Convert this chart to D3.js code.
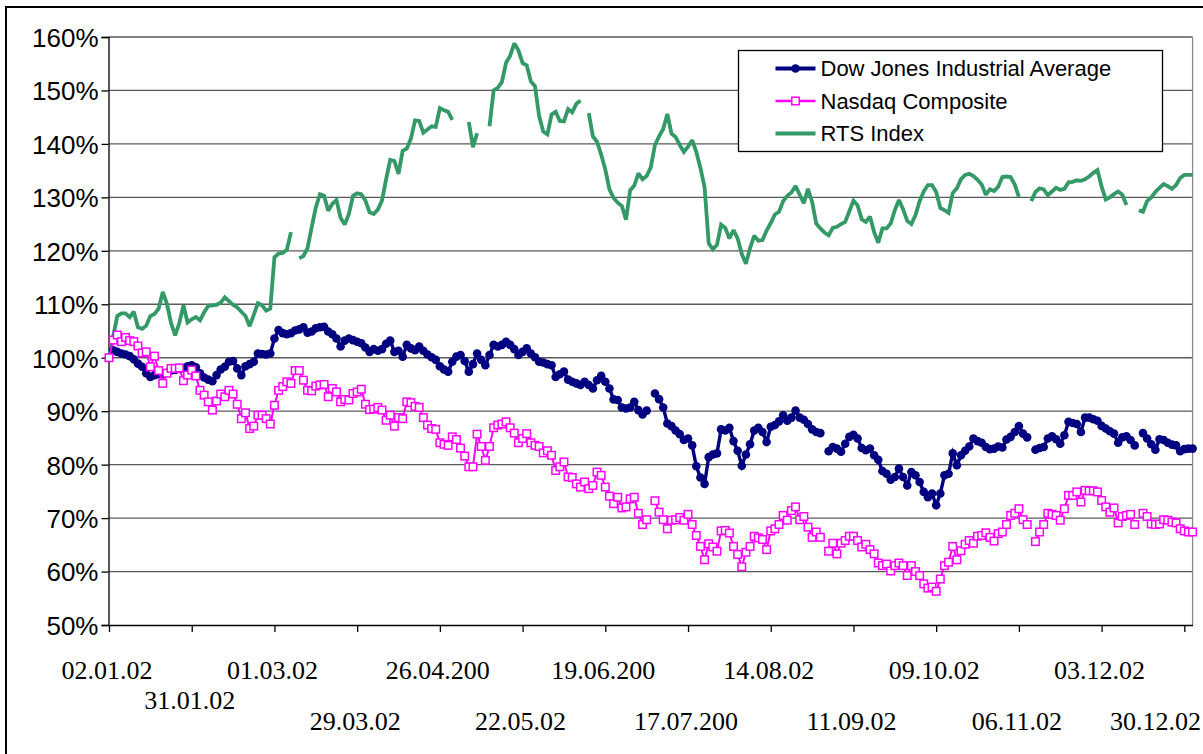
<!DOCTYPE html>
<html>
<head>
<meta charset="utf-8">
<script src="https://cdn.jsdelivr.net/npm/d3@7"></script>
<style>
  body { margin: 0; background: #fff; }
  svg { display: block; }
</style>
</head>
<body>
<svg id="chart" width="1203" height="754"></svg>
<script>
// Date labels shown under every 20th trading day
const tickLabels = ["02.01.02", "31.01.02", "01.03.02", "29.03.02", "26.04.200", "22.05.02",
  "19.06.200", "17.07.200", "14.08.02", "11.09.02", "09.10.02", "06.11.02", "03.12.02", "30.12.02"];

const seriesNames = ["Dow Jones Industrial Average", "Nasdaq Composite", "RTS Index"];

// Index level relative to the first trading day of 2002, in percent (null = market closed)
const dowValues = [
  100,101.4,101.1,100.8,100.6,100.3,99.7,98.9,98.3,97.1,
  96.4,96.75,96.9,96.9,97.2,97.6,97.7,97.9,98.0,98.4,
  98.6,98.2,97.1,96.3,95.9,95.6,96.75,97.8,98.3,99.25,
  99.4,98.0,96.75,98.4,98.8,99.25,100.8,100.7,100.6,100.8,
  103.6,105.2,104.6,104.4,104.6,105.1,105.3,105.7,104.7,104.9,
  105.5,105.7,105.8,104.9,104.4,103.6,102.1,103.2,103.6,103.3,
  103.0,102.7,101.9,101.1,101.6,101.3,101.6,102.6,103.2,101.1,
  101.3,100.2,102.4,101.75,101.4,102.1,101.3,100.6,100.1,99.6,
  98.4,97.8,97.4,99.25,100.2,100.5,99.4,97.4,98.8,100.8,
  99.6,98.6,100.5,102.4,102.1,102.4,103.0,102.4,101.6,100.5,
  101.1,101.75,100.8,100.1,99.25,99.1,98.8,98.6,96.4,96.9,
  97.4,95.9,95.5,95.2,94.9,95.5,94.9,94.25,95.8,96.6,
  95.5,94.25,92.2,92.1,90.7,90.5,90.7,91.75,90.2,89.4,
  90.1,null,93.3,92.25,90.7,87.7,87.2,86.4,85.7,84.6,
  84.9,83.6,79.7,77.6,76.4,81.4,81.9,82.1,86.6,86.4,
  86.9,84.4,82.6,79.8,81.9,83.8,86.4,86.9,86.1,84.25,
  87.1,87.4,88.1,89.25,88.2,88.8,90.1,88.8,88.4,87.6,
  86.6,86.1,85.9,null,82.5,83.3,83.0,82.4,83.9,85.2,
  85.6,84.9,83.1,82.7,83.0,81.75,80.9,78.8,78.3,77.2,
  77.7,79.25,77.7,76.1,78.6,78.0,76.75,74.9,73.9,74.6,
  72.4,74.6,78.0,78.3,82.1,79.9,81.75,82.6,83.4,84.9,
  84.4,84.1,83.3,82.9,83.0,83.4,83.2,84.7,85.2,86.1,
  87.2,85.8,85.1,null,82.8,83.1,83.3,84.9,85.3,84.75,
  83.9,85.5,88.0,87.8,87.6,86.1,88.8,88.8,88.5,88.2,
  87.25,86.75,86.25,85.8,84.1,85.1,85.3,84.6,83.6,null,
  85.9,84.9,83.8,82.8,84.75,84.6,84.1,83.75,83.6,82.5,
  82.9,83.0,83.0
];

const nasdaqValues = [
  100,103.3,104.25,103.0,103.8,103.2,103.0,102.2,100.9,101.1,
  98.3,100.3,97.6,95.2,97.1,98.0,98.0,98.1,95.7,96.75,
  97.7,96.6,93.9,93.0,91.75,90.2,91.9,93.2,92.7,93.9,
  93.2,91.3,88.6,89.7,86.75,87.2,89.25,89.25,88.6,87.6,
  91.1,93.9,94.6,95.5,95.2,97.6,97.6,95.8,93.9,93.8,
  94.7,94.9,95.0,92.7,94.25,93.6,91.75,92.2,92.1,93.3,
  93.6,94.1,91.3,90.3,90.4,90.7,90.2,88.3,89.25,87.2,
  88.8,88.6,91.75,91.6,90.9,90.7,88.8,87.4,86.75,86.6,
  84.1,83.8,83.6,85.2,84.7,83.1,81.6,79.6,79.6,85.7,
  83.4,80.8,83.4,86.9,87.4,87.6,88.0,86.9,85.9,84.1,
  84.9,85.8,84.1,83.6,83.4,82.2,82.6,81.75,78.9,79.6,
  80.5,77.7,77.6,76.4,75.8,76.75,75.5,76.1,78.6,78.0,
  75.8,74.1,72.7,73.9,71.9,72.1,73.6,73.9,70.9,68.8,
  69.7,null,73.25,71.1,69.7,68.0,69.6,69.7,70.1,69.6,
  70.7,68.8,66.75,64.7,62.2,65.2,64.6,63.8,67.6,67.7,
  67.2,64.7,63.2,60.9,63.6,64.7,66.6,66.3,66.0,64.1,
  67.6,68.0,68.8,70.5,69.6,71.4,72.1,69.7,70.3,68.3,
  66.4,67.4,66.4,null,63.8,65.3,63.3,65.3,65.8,66.6,
  66.6,65.8,64.6,65.1,64.1,63.3,61.6,61.1,61.4,60.1,
  61.1,61.6,61.1,59.25,61.1,60.0,59.25,57.7,56.9,57.1,
  56.3,58.6,61.1,61.75,64.7,62.2,63.9,65.1,65.8,65.3,
  66.6,66.75,67.25,66.4,65.7,67.1,67.4,68.8,70.5,70.9,
  71.75,69.7,68.8,null,65.6,67.4,68.8,70.9,70.7,70.5,
  69.6,71.75,74.25,74.25,74.9,73.0,75.2,75.1,75.1,74.9,
  73.3,72.1,71.1,71.9,69.1,70.3,70.5,70.7,68.8,null,
  70.9,70.3,68.9,68.8,68.9,69.7,69.6,69.25,69.1,68.0,
  67.6,67.4,67.4
];

const rtsValues = [
  100,104,107.8,108.3,108.3,107.6,108.6,105.7,105.4,106.0,
  107.8,108.2,109.2,112.3,110.1,106.5,104.2,106.5,109.8,106.6,
  107.2,107.6,107.0,108.5,109.7,109.8,109.9,110.3,111.3,110.6,
  109.9,109.4,108.6,107.8,105.9,108.0,110.2,109.8,108.8,109.2,
  118.8,119.5,119.6,120.2,123.5,null,118.6,119.0,120.5,124.4,
  128.1,130.6,130.3,127.5,128.8,129.5,126.2,124.9,126.9,130.3,
  130.75,130.6,129.4,127.2,126.9,127.7,129.4,133.4,137.0,136.8,
  134.4,138.7,139.1,141.0,144.4,144.3,142.1,142.7,143.3,143.2,
  146.7,146.3,146.0,144.5,null,null,null,144.1,139.4,142.0,
  null,null,143.3,150.0,150.5,151.6,155.2,156.5,158.8,157.5,
  155.1,154.7,151.7,150.8,145.2,142.3,141.8,145.5,146.0,144.3,
  144.2,146.5,145.9,147.5,148.1,null,145.75,141.4,140.4,138.0,
  135.2,131.5,129.9,129.0,128.4,125.8,131.3,132.2,134.5,133.4,
  134.0,135.6,139.8,141.4,142.8,145.6,141.9,141.3,139.8,138.5,
  139.5,140.7,138.5,135.5,131.9,121.4,120.3,121.1,124.9,124.3,
  122.3,123.9,122.3,119.4,117.6,120.5,122.8,121.9,122.0,123.8,
  125.2,126.8,127.3,129.3,130.3,130.9,132.1,130.5,128.9,131.6,
  129.2,125.1,124.2,123.4,122.9,124.3,124.5,125.0,125.4,127.4,
  129.4,128.5,125.9,125.4,126.4,123.5,121.5,124.2,124.2,125.1,
  127.6,129.5,127.8,125.6,125.0,126.7,129.3,131.1,132.3,132.3,
  131.0,128.0,127.6,127.1,130.8,131.7,133.4,134.2,134.4,134.0,
  133.3,132.4,130.5,131.5,131.2,132.0,133.8,133.9,133.8,132.4,
  130.1,null,null,129.3,131.0,131.7,131.5,130.4,131.1,131.8,
  131.4,131.6,132.8,132.9,133.2,133.1,133.4,133.9,134.6,135.1,
  132.0,129.6,130.0,130.6,131.1,130.5,128.6,null,null,127.6,
  127.3,129.3,130.0,131.0,131.8,132.5,132.1,131.6,132.3,133.6,
  134.2,134.2,134.2
];

const yTicks = [50, 60, 70, 80, 90, 100, 110, 120, 130, 140, 150, 160];

const colors = { dow: "#000080", nasdaq: "#ff00ff", rts: "#339966" };
const sansFont = "Arial, 'Liberation Sans', Helvetica, sans-serif";
const serifFont = "'Times New Roman', 'Liberation Serif', serif";

const W = 1203, H = 754;
const plot = { left: 109, right: 1192.6, top: 37, bottom: 625 };
const labelStep = 20;

const svg = d3.select("#chart");
svg.append("rect").attr("width", W).attr("height", H).attr("fill", "#fff");

// Chart frame (right and bottom edges lie outside the page)
svg.append("rect")
  .attr("x", 6).attr("y", 7).attr("width", W + 20).attr("height", H + 20)
  .attr("fill", "none").attr("stroke", "#000").attr("stroke-width", 2);

const n = dowValues.length;
const x = d3.scaleLinear().domain([0, n - 1]).range([plot.left, plot.right]);
const y = d3.scaleLinear().domain([50, 160]).range([plot.bottom, plot.top]);

// Horizontal gridlines
svg.append("g")
  .selectAll("line")
  .data(yTicks.filter(v => v > 50))
  .join("line")
  .attr("x1", plot.left).attr("x2", plot.right)
  .attr("y1", d => y(d)).attr("y2", d => y(d))
  .attr("stroke", "#5a5a5a").attr("stroke-width", 1.3);

// Plot-area right edge
svg.append("line")
  .attr("x1", plot.right).attr("x2", plot.right)
  .attr("y1", plot.top).attr("y2", plot.bottom)
  .attr("stroke", "#8a8a8a").attr("stroke-width", 1.3);

// Y axis
const yAxis = svg.append("g")
  .attr("transform", `translate(${plot.left - 0.5},0)`)
  .call(d3.axisLeft(y).tickValues(yTicks).tickFormat(d => d + "%").tickSize(7).tickPadding(3));
yAxis.select(".domain").attr("stroke", "#000").attr("stroke-width", 1.3);
yAxis.selectAll(".tick line").attr("stroke", "#000").attr("stroke-width", 1.3);
yAxis.selectAll(".tick text")
  .attr("font-family", sansFont).attr("font-size", 26).attr("fill", "#000")
  .attr("dy", "0.36em");

// X axis with a tick every 20 trading days
const tickIdx = d3.range(0, n, labelStep);
const xAxis = svg.append("g")
  .attr("transform", `translate(0,${plot.bottom})`)
  .call(d3.axisBottom(x).tickValues(tickIdx).tickFormat("").tickSize(7).tickSizeOuter(0));
xAxis.select(".domain").attr("stroke", "#000").attr("stroke-width", 1.3);
xAxis.selectAll(".tick line").attr("stroke", "#000").attr("stroke-width", 1.3);

// Staggered date labels
const labelRowY = [679, 709, 730];
svg.append("g")
  .selectAll("text")
  .data(tickLabels)
  .join("text")
  .attr("x", (d, i) => i === tickLabels.length - 1 ? W - 2 : x(tickIdx[i]) - 2)
  .attr("y", (d, i) => labelRowY[i === 0 ? 0 : i === 1 ? 1 : (i % 2 === 0 ? 0 : 2)])
  .attr("text-anchor", (d, i) => i === tickLabels.length - 1 ? "end" : "middle")
  .attr("font-family", serifFont).attr("font-size", 26).attr("fill", "#000")
  .text(d => d);

const lineGen = d3.line()
  .defined(d => d != null)
  .x((d, i) => x(i))
  .y(d => y(d));

// RTS Index
svg.append("path")
  .datum(rtsValues)
  .attr("d", lineGen)
  .attr("fill", "none").attr("stroke", colors.rts)
  .attr("stroke-width", 3.8).attr("stroke-linejoin", "miter").attr("stroke-miterlimit", 2);

// Dow Jones
const dotR = 4.3;
svg.append("path")
  .datum(dowValues)
  .attr("d", lineGen)
  .attr("fill", "none").attr("stroke", colors.dow).attr("stroke-width", 3.4);
svg.append("g")
  .selectAll("circle")
  .data(dowValues.map((v, i) => ({ v, i })).filter(d => d.v != null))
  .join("circle")
  .attr("cx", d => x(d.i)).attr("cy", d => y(d.v)).attr("r", dotR)
  .attr("fill", colors.dow);

// Nasdaq
svg.append("path")
  .datum(nasdaqValues)
  .attr("d", lineGen)
  .attr("fill", "none").attr("stroke", colors.nasdaq).attr("stroke-width", 2);
const sq = 7.5;
svg.append("g")
  .selectAll("rect")
  .data(nasdaqValues.map((v, i) => ({ v, i })).filter(d => d.v != null))
  .join("rect")
  .attr("x", d => x(d.i) - sq / 2).attr("y", d => y(d.v) - sq / 2)
  .attr("width", sq).attr("height", sq)
  .attr("fill", "#fff").attr("stroke", colors.nasdaq).attr("stroke-width", 1.5);

// Legend
const legend = svg.append("g").attr("transform", "translate(738.5,50.5)");
legend.append("rect")
  .attr("width", 424).attr("height", 101)
  .attr("fill", "#fff").attr("stroke", "#000").attr("stroke-width", 1.3);
const rows = legend.selectAll("g.row")
  .data(seriesNames)
  .join("g")
  .attr("class", "row")
  .attr("transform", (d, i) => `translate(0,${18 + i * 32.5})`);
const rowColors = [colors.dow, colors.nasdaq, colors.rts];
rows.append("line")
  .attr("x1", 37).attr("x2", 77).attr("y1", 0).attr("y2", 0)
  .attr("stroke", (d, i) => rowColors[i])
  .attr("stroke-width", (d, i) => i === 1 ? 2.5 : 3.8);
rows.filter((d, i) => i === 0).append("circle")
  .attr("cx", 57).attr("cy", 0).attr("r", dotR).attr("fill", colors.dow);
rows.filter((d, i) => i === 1).append("rect")
  .attr("x", 57 - sq / 2).attr("y", -sq / 2).attr("width", sq).attr("height", sq)
  .attr("fill", "#fff").attr("stroke", colors.nasdaq).attr("stroke-width", 1.5);
rows.append("text")
  .attr("x", 82).attr("y", 0).attr("dy", "0.36em")
  .attr("font-family", sansFont).attr("font-size", 22).attr("fill", "#000")
  .text(d => d);
</script>
</body>
</html>
